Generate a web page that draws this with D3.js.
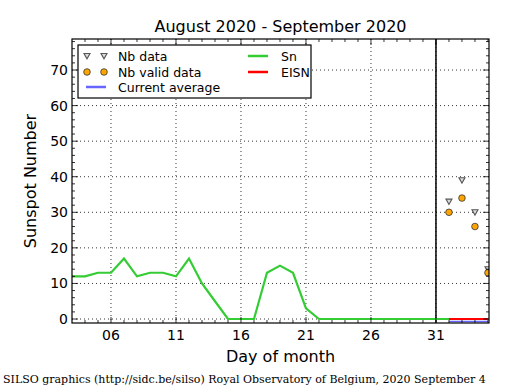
<!DOCTYPE html>
<html><head><meta charset="utf-8">
<script src="https://cdn.jsdelivr.net/npm/d3@7"></script>
<style>
html,body{margin:0;padding:0;background:#fff;}
svg{display:block;}
text{font-family:"DejaVu Sans",sans-serif;}
</style></head>
<body>
<script>
// ---- data ----
const snDays = [3,4,5,6,7,8,9,10,11,12,13,14,15,16,17,18,19,20,21,22,23,24,25,26,27,28,29,30,31,32];
const snValues = [12,12,13,13,17,12,13,13,12,17,10,5,0,0,0,13,15,13,3,0,0,0,0,0,0,0,0,0,0,0];
const nbDays = [32,33,34,35];
const nbData = [33,39,30,14];
const nbValid = [30,34,26,13];
const eisnDays = [32,35];
const eisnValues = [0,0];
const avgDays = [32,35];
const avgValues = [-0.7,-0.7];
const xTickDays = [6,11,16,21,26,31];
const xTickLabels = ["06","11","16","21","26","31"];
const yTicks = [0,10,20,30,40,50,60,70];
const monthEndDay = 31;

const W=515,H=390;
const L=72,R=489,T=39,B=323;
const svg=d3.select("body").append("svg").attr("width",W).attr("height",H);
const x=d3.scaleLinear().domain([3,35.08]).range([L,R]);
const y=d3.scaleLinear().domain([-1.12,78.72]).range([B,T]);

const clipId="clipplot";
svg.append("defs").append("clipPath").attr("id",clipId)
  .append("rect").attr("x",L).attr("y",T).attr("width",R-L).attr("height",B-T);

// grid
const grid=svg.append("g");
xTickDays.forEach(d=>grid.append("line").attr("x1",x(d)).attr("x2",x(d)).attr("y1",T).attr("y2",B)
  .attr("stroke","#000").attr("stroke-width",0.8).attr("stroke-dasharray","1,3"));
yTicks.forEach(v=>grid.append("line").attr("x1",L).attr("x2",R).attr("y1",y(v)).attr("y2",y(v))
  .attr("stroke","#000").attr("stroke-width",0.8).attr("stroke-dasharray","1,3"));

const plot=svg.append("g").attr("clip-path",`url(#${clipId})`);
// month end line
plot.append("line").attr("x1",x(monthEndDay)).attr("x2",x(monthEndDay)).attr("y1",T).attr("y2",B)
  .attr("stroke","#000").attr("stroke-width",1.5);

const line=d3.line().x(d=>x(d[0])).y(d=>y(d[1]));
plot.append("path").datum(snDays.map((d,i)=>[d,snValues[i]])).attr("d",line)
  .attr("fill","none").attr("stroke","#33cc33").attr("stroke-width",2.2);
plot.append("path").datum(avgDays.map((d,i)=>[d,avgValues[i]])).attr("d",line)
  .attr("fill","none").attr("stroke","#6666ff").attr("stroke-width",1.5);
plot.append("path").datum(eisnDays.map((d,i)=>[d,eisnValues[i]])).attr("d",line)
  .attr("fill","none").attr("stroke","#ff0000").attr("stroke-width",2.2);

function tri(g,cx,cy){
  g.append("path").attr("d",`M${cx-3},${cy-2.5} L${cx+3},${cy-2.5} L${cx},${cy+2.8} Z`)
   .attr("fill","#ddd").attr("stroke","#555").attr("stroke-width",1.1);
}
function circ(g,cx,cy){
  g.append("circle").attr("cx",cx).attr("cy",cy).attr("r",3.3)
   .attr("fill","#ffa500").attr("stroke","#333").attr("stroke-width",0.8);
}
nbDays.forEach((d,i)=>tri(plot,x(d),y(nbData[i])));
nbDays.forEach((d,i)=>circ(plot,x(d),y(nbValid[i])));

// frame
svg.append("rect").attr("x",L).attr("y",T).attr("width",R-L).attr("height",B-T)
  .attr("fill","none").attr("stroke","#000").attr("stroke-width",1.2);

// ticks
const tk=svg.append("g").attr("stroke","#000").attr("stroke-width",0.8);
for(let d=4; d<=35; d++){
  const maj=xTickDays.includes(d); const len=maj?6:3;
  tk.append("line").attr("x1",x(d)).attr("x2",x(d)).attr("y1",B).attr("y2",B-len);
  tk.append("line").attr("x1",x(d)).attr("x2",x(d)).attr("y1",T).attr("y2",T+len);
}
for(let v=0; v<=78; v+=2){
  const maj=v%10===0; const len=maj?6:3;
  tk.append("line").attr("x1",L).attr("x2",L+len).attr("y1",y(v)).attr("y2",y(v));
  tk.append("line").attr("x1",R).attr("x2",R-len).attr("y1",y(v)).attr("y2",y(v));
}

// tick labels
xTickDays.forEach((d,i)=>svg.append("text").attr("x",x(d)).attr("y",B+17).attr("text-anchor","middle")
  .attr("font-size",14).text(xTickLabels[i]));
yTicks.forEach(v=>svg.append("text").attr("x",L-4).attr("y",y(v)+5).attr("text-anchor","end")
  .attr("font-size",14).text(v));

// titles
svg.append("text").attr("x",(L+R)/2).attr("y",32).attr("text-anchor","middle").attr("font-size",16)
  .text("August 2020 - September 2020");
svg.append("text").attr("x",(L+R)/2).attr("y",362).attr("text-anchor","middle").attr("font-size",16)
  .text("Day of month");
svg.append("text").attr("transform",`translate(36,${(T+B)/2}) rotate(-90)`).attr("text-anchor","middle")
  .attr("font-size",16).text("Sunspot Number");
svg.append("text").attr("x",3).attr("y",383).attr("font-size",11)
  .style("font-family","'DejaVu Serif',serif")
  .text("SILSO graphics (http://sidc.be/silso) Royal Observatory of Belgium, 2020 September 4");

// legend
const lg=svg.append("g");
lg.append("rect").attr("x",78).attr("y",45).attr("width",233).attr("height",53)
  .attr("fill","#fff").attr("stroke","#000").attr("stroke-width",1.2);
tri(lg,87,56); tri(lg,104,56);
circ(lg,87,72); circ(lg,104,72);
lg.append("line").attr("x1",86).attr("x2",106).attr("y1",87).attr("y2",87).attr("stroke","#6666ff").attr("stroke-width",2.5);
lg.append("line").attr("x1",248).attr("x2",268).attr("y1",56).attr("y2",56).attr("stroke","#33cc33").attr("stroke-width",2.5);
lg.append("line").attr("x1",248).attr("x2",268).attr("y1",72).attr("y2",72).attr("stroke","#ff0000").attr("stroke-width",2.5);
const lt=[["Nb data",118,61],["Nb valid data",118,77],["Current average",118,92],["Sn",281,61],["EISN",281,77]];
lt.forEach(t=>lg.append("text").attr("x",t[1]).attr("y",t[2]).attr("font-size",12.5).text(t[0]));
</script>
</body></html>
